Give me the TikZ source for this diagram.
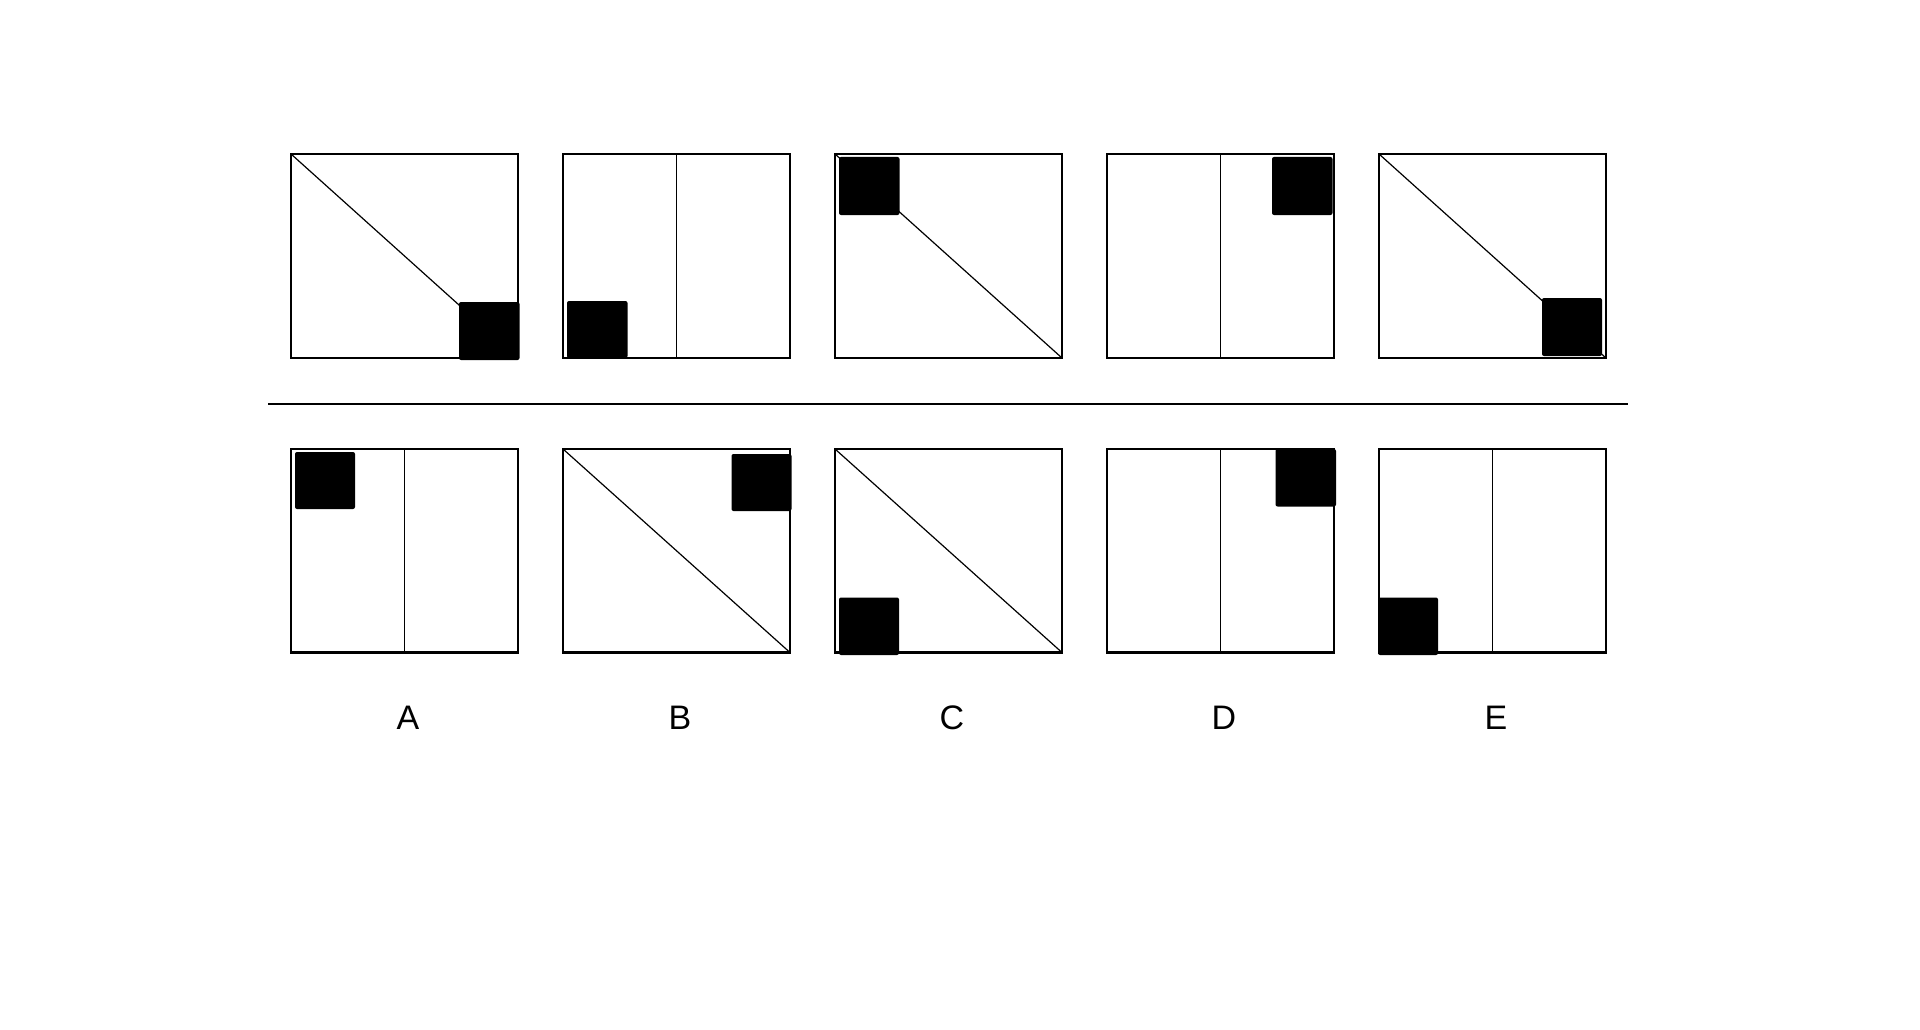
\documentclass[tikz,border=0pt]{standalone}
\usepackage{fontspec}
\setmainfont{Liberation Sans}
\begin{document}
\begin{tikzpicture}[x=1pt,y=-1pt,
  frame/.style={draw=black,line width=2.2pt},
  diagline/.style={draw=black,line width=1.2pt},
  midline/.style={draw=black,line width=1.4pt},
  blk/.style={fill=black,rounded corners=2pt},
  lbl/.style={font=\fontsize{34}{40}\selectfont,anchor=base,inner sep=0pt}]
\useasboundingbox[fill=white] (0,0) rectangle (1920,1030);

% ---------- top row ----------
% box 1 : diagonal
\draw[diagline] (291,154) -- (518,358);
\draw[frame] (291,154) rectangle (518,358);
\fill[blk] (459,302) rectangle (519.5,360);
% box 2 : vertical
\draw[midline] (676.5,154) -- (676.5,358);
\draw[frame] (563,154) rectangle (790,358);
\fill[blk] (567,301) rectangle (627.5,358);
% box 3 : diagonal
\draw[diagline] (835,154) -- (1062,358);
\draw[frame] (835,154) rectangle (1062,358);
\fill[blk] (839,157) rectangle (899.5,215);
% box 4 : vertical
\draw[midline] (1220.5,154) -- (1220.5,358);
\draw[frame] (1107,154) rectangle (1334,358);
\fill[blk] (1272,157) rectangle (1332.5,215);
% box 5 : diagonal
\draw[diagline] (1379,154) -- (1606,358);
\draw[frame] (1379,154) rectangle (1606,358);
\fill[blk] (1542,298) rectangle (1602,356);

% ---------- separator ----------
\draw[line width=2.2pt] (268,404) -- (1628,404);

% ---------- bottom row ----------
% A : vertical
\draw[midline] (404.5,449) -- (404.5,652.5);
\draw[frame] (291,449) rectangle (518,652.5);
\fill[blk] (295,452) rectangle (355,509);
% B : diagonal
\draw[diagline] (563,449) -- (790,652.5);
\draw[frame] (563,449) rectangle (790,652.5);
\fill[blk] (731.5,454) rectangle (791.5,511);
% C : diagonal
\draw[diagline] (835,449) -- (1062,652.5);
\draw[frame] (835,449) rectangle (1062,652.5);
\fill[blk] (839,597.5) rectangle (899,655);
% D : vertical
\draw[midline] (1220.5,449) -- (1220.5,652.5);
\draw[frame] (1107,449) rectangle (1334,652.5);
\fill[blk] (1275.5,449) rectangle (1336,506.5);
% E : vertical
\draw[midline] (1492.5,449) -- (1492.5,652.5);
\draw[frame] (1379,449) rectangle (1606,652.5);
\fill[blk] (1378,597.5) rectangle (1438,655);

% ---------- labels ----------
\node[lbl] (labA) at (408,729) {A};
\node[lbl] (labB) at (680,729) {B};
\node[lbl] (labC) at (952,729) {C};
\node[lbl] (labD) at (1224,729) {D};
\node[lbl] (labE) at (1496,729) {E};
\end{tikzpicture}
\end{document}
